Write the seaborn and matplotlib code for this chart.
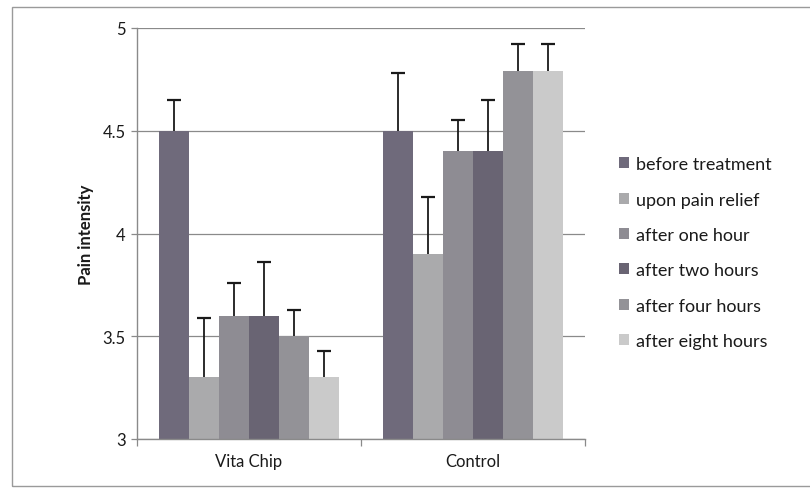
import matplotlib
matplotlib.use("Agg")
import matplotlib.pyplot as plt
import matplotlib.patches as mpatches
import seaborn as sns
import pandas as pd
import numpy as np

groups = ["Vita Chip", "Control"]
times = ["before treatment", "upon pain relief", "after one hour",
         "after two hours", "after four hours", "after eight hours"]
vita_means = [4.5, 3.3, 3.6, 3.6, 3.5, 3.3]
vita_errs = [0.15, 0.29, 0.16, 0.26, 0.13, 0.13]
control_means = [4.5, 3.9, 4.4, 4.4, 4.79, 4.79]
control_errs = [0.28, 0.28, 0.15, 0.25, 0.13, 0.13]
yticks = [3, 3.5, 4, 4.5, 5]

colors = ["#6f6a7b", "#aaaaac", "#8e8c93", "#696473", "#939297", "#cacaca"]

rows = []
for g, means, errs in [(groups[0], vita_means, vita_errs), (groups[1], control_means, control_errs)]:
    for t, m, e in zip(times, means, errs):
        rows.append({"group": g, "time": t, "value": m, "err": e})
df = pd.DataFrame(rows)

sns.set_theme(style="white")
plt.rcParams["font.family"] = ["Lato", "DejaVu Sans"]

fig = plt.figure(figsize=(8.1, 4.89), dpi=100)
ax = fig.add_axes([137 / 810, 1 - 440 / 489, (585 - 137) / 810, (440 - 29) / 489])

sns.barplot(data=df, x="group", y="value", hue="time", order=groups, hue_order=times,
            palette=colors, width=0.8, saturation=1, errorbar=None, ax=ax,
            edgecolor="none", linewidth=0, legend=True)

# error bars (upper only), positioned from the drawn bars
err_lookup = {(r.group, r.time): r.err for r in df.itertuples()}
for t, cont in zip(times, ax.containers):
    for bar in cont:
        xc = bar.get_x() + bar.get_width() / 2
        gi = int(round(xc))
        h = bar.get_height()
        e = err_lookup[(groups[gi], t)]
        eb = ax.errorbar([xc], [h], yerr=[[0], [e]], fmt="none", ecolor="#1a1a1a",
                         elinewidth=1.3, capsize=5, capthick=1.6, zorder=5)
        caps = eb[1]
        if len(caps) > 1:
            caps[0].set_visible(False)

ax.set_ylim(3, 5)
ax.set_xlim(-0.5, 1.5)
ax.set_yticks(yticks)
ax.set_yticklabels(["3", "3.5", "4", "4.5", "5"])
ax.yaxis.grid(True, color="#8a8a8a", linewidth=0.9)
ax.set_axisbelow(True)
ax.set_xlabel("")
ax.set_ylabel("Pain intensity", fontsize=12, fontweight="bold", color="#1a1a1a", labelpad=6)

for s in ["top", "right"]:
    ax.spines[s].set_visible(False)
for s in ["left", "bottom"]:
    ax.spines[s].set_color("#8a8a8a")
    ax.spines[s].set_linewidth(1.0)

ax.tick_params(axis="y", which="major", direction="out", length=4, width=0.9,
               color="#8a8a8a", pad=4, labelsize=12, labelcolor="#1a1a1a", left=True)
ax.set_xticks([-0.5, 0.5, 1.5], minor=True)
ax.tick_params(axis="x", which="minor", direction="out", length=5, width=0.9,
               color="#8a8a8a", bottom=True)
ax.tick_params(axis="x", which="major", length=0, pad=10, labelsize=12, labelcolor="#1a1a1a")

leg = ax.legend(loc="upper left", bbox_to_anchor=(612 / 810, 1 - 150 / 489),
                bbox_transform=fig.transFigure, frameon=False, fontsize=13,
                handlelength=0.55, handleheight=0.55, handletextpad=0.4,
                labelspacing=1.07, borderaxespad=0)
for txt in leg.get_texts():
    txt.set_color("#1a1a1a")

border = mpatches.Rectangle((12 / 810, 2 / 489), 1.05 - 12 / 810, (481 - 2) / 489,
                            transform=fig.transFigure, fill=False,
                            edgecolor="#9a9a9a", linewidth=1.0, clip_on=False)
fig.patches.append(border)

fig.savefig("out.png", dpi=100)
